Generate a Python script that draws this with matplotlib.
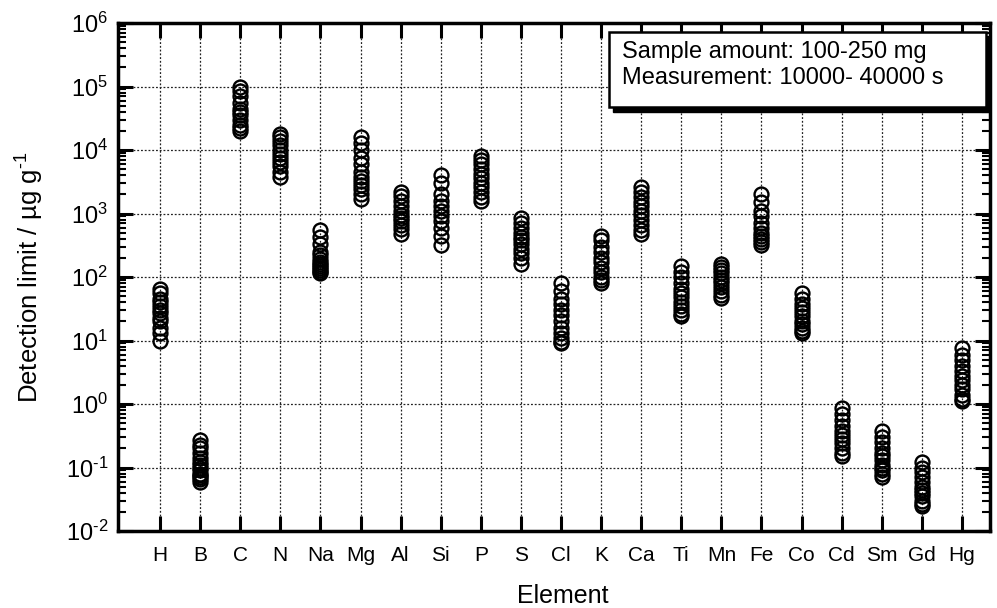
import matplotlib
matplotlib.use("Agg")
import matplotlib.pyplot as plt
from matplotlib.patches import Rectangle
from matplotlib.ticker import FixedLocator, NullFormatter

plt.rcParams['font.family'] = ['Liberation Sans', 'DejaVu Sans']
plt.rcParams['mathtext.fontset'] = 'custom'
plt.rcParams['mathtext.rm'] = 'Liberation Sans'
plt.rcParams['mathtext.it'] = 'Liberation Sans'
plt.rcParams['mathtext.default'] = 'regular'

elements = ['H', 'B', 'C', 'N', 'Na', 'Mg', 'Al', 'Si', 'P', 'S', 'Cl', 'K',
            'Ca', 'Ti', 'Mn', 'Fe', 'Co', 'Cd', 'Sm', 'Gd', 'Hg']

H = [10, 13, 16, 20, 23, 27, 30, 35, 40, 45, 55, 65]
B = [0.06, 0.065, 0.07, 0.075, 0.08, 0.09, 0.1, 0.11, 0.12, 0.14, 0.17, 0.2, 0.23, 0.27]
C = [20000, 22000, 25000, 30000, 35000, 40000, 45000, 55000, 70000, 85000, 100000]
N = [3700, 4500, 5500, 6500, 7500, 8500, 10000, 12000, 14000, 16000, 18000]
Na = [550, 420, 330, 250, 220, 190, 170, 160, 150, 140, 130, 120, 115]
Mg = [16000, 13000, 10000, 7500, 6000, 4500, 3800, 3200, 2800, 2400, 2000, 1700]
Al = [2200, 1900, 1600, 1300, 1100, 950, 850, 750, 650, 560, 480]
Si = [4000, 3000, 2000, 1600, 1300, 1100, 900, 750, 600, 450, 320]
P = [8000, 7000, 6000, 5000, 4200, 3600, 3000, 2600, 2200, 1800, 1600]
S = [850, 700, 600, 500, 430, 380, 330, 280, 240, 200, 160]
Cl = [80, 60, 45, 38, 30, 25, 20, 16, 13, 11, 9.5, 9]
K = [450, 380, 300, 250, 200, 170, 140, 120, 100, 90, 80]
Ca = [2600, 2200, 1800, 1500, 1300, 1100, 950, 800, 650, 550, 480]
Ti = [150, 120, 100, 80, 65, 55, 48, 40, 35, 30, 26, 24]
Mn = [160, 145, 130, 115, 100, 90, 80, 70, 60, 52, 46]
Fe = [2000, 1500, 1100, 900, 700, 600, 500, 450, 400, 350, 320]
Co = [55, 45, 38, 32, 28, 24, 20, 18, 16, 14, 13]
Cd = [0.85, 0.7, 0.55, 0.45, 0.38, 0.32, 0.28, 0.24, 0.2, 0.17, 0.15]
Sm = [0.38, 0.3, 0.25, 0.2, 0.17, 0.15, 0.13, 0.11, 0.1, 0.09, 0.08, 0.07]
Gd = [0.12, 0.1, 0.085, 0.07, 0.06, 0.05, 0.045, 0.04, 0.035, 0.03, 0.027, 0.025]
Hg = [7.5, 6, 5, 4, 3.3, 2.8, 2.4, 2, 1.7, 1.4, 1.2, 1.1]

series = [H, B, C, N, Na, Mg, Al, Si, P, S, Cl, K, Ca, Ti, Mn, Fe, Co, Cd, Sm, Gd, Hg]

ytick_labels = ['$10^{\\text{-}2}$', '$10^{\\text{-}1}$', '$10^{0}$', '$10^{1}$', '$10^{2}$',
                '$10^{3}$', '$10^{4}$', '$10^{5}$', '$10^{6}$']
ytick_values = [1e-2, 1e-1, 1e0, 1e1, 1e2, 1e3, 1e4, 1e5, 1e6]

legend_lines = ['Sample amount: 100-250 mg', 'Measurement: 10000- 40000 s']

fig = plt.figure(figsize=(9.97, 6.08), dpi=100)
ax = fig.add_axes([118/997, 77/608, (990-118)/997, (531-23)/608])

for i, vals in enumerate(series):
    ax.plot([i]*len(vals), vals, 'o', mfc='none', mec='black', ms=10, mew=1.7,
            zorder=3, clip_on=False)

ax.set_yscale('log')
ax.set_ylim(1e-2, 1e6)
ax.set_xlim(-1.05, 20.7)

ax.set_xticks(range(len(elements)))
ax.set_xticklabels(elements, fontsize=15)
ax.yaxis.set_major_locator(FixedLocator(ytick_values))
ax.set_yticklabels(ytick_labels, fontsize=17)
minors = [m * 10.0**e for e in range(-2, 6) for m in range(2, 10)]
ax.yaxis.set_minor_locator(FixedLocator(minors))
ax.yaxis.set_minor_formatter(NullFormatter())

ax.tick_params(axis='both', which='major', direction='in', length=11, width=2.2,
               top=True, right=True)
ax.tick_params(axis='y', which='minor', direction='in', length=6, width=1.5,
               left=True, right=True)
ax.tick_params(axis='x', which='major', pad=11)
ax.tick_params(axis='y', which='major', pad=7)

for sp in ax.spines.values():
    sp.set_linewidth(2.5)

ax.grid(True, which='major', linestyle=(0, (1.5, 1.5)), color='#222222', linewidth=0.9)
ax.set_axisbelow(True)

ax.set_xlabel('Element', fontsize=18)
ax.xaxis.set_label_coords(0.51, -0.105)
ax.set_ylabel('Detection limit / µg g$^{\\text{-}1}$', fontsize=18.5, labelpad=14)

# annotation box with shadow
bx0, by0 = (609-118)/872, (531-107)/508
bw, bh = (986-609)/872, (107-32)/508
dx, dy = 4/872, 5/508
ax.add_patch(Rectangle((bx0+dx, by0-dy), bw, bh, transform=ax.transAxes,
                       facecolor='black', edgecolor='black', zorder=5))
ax.add_patch(Rectangle((bx0, by0), bw, bh, transform=ax.transAxes,
                       facecolor='white', edgecolor='black', linewidth=1.8, zorder=6))
ax.text(bx0 + 13/872, (531-52)/508, legend_lines[0], transform=ax.transAxes,
        fontsize=17, va='center', ha='left', zorder=7)
ax.text(bx0 + 13/872, (531-78)/508, legend_lines[1], transform=ax.transAxes,
        fontsize=17, va='center', ha='left', zorder=7)

fig.savefig('out.png', dpi=100)
